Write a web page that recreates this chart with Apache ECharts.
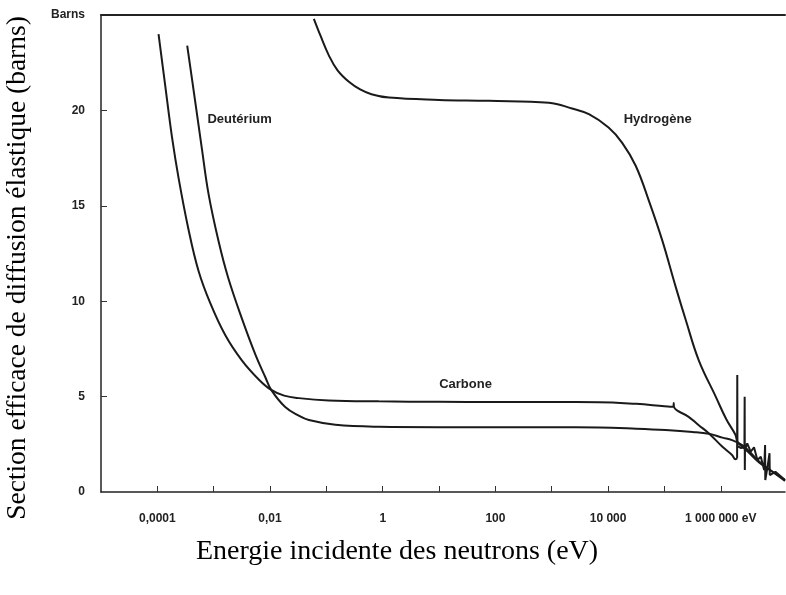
<!DOCTYPE html>
<html>
<head>
<meta charset="utf-8">
<script src="https://cdn.jsdelivr.net/npm/echarts@6/dist/echarts.min.js"></script>
<style>
  html, body { margin: 0; padding: 0; background: #fff; }
  #chart { width: 786px; height: 595px; }
</style>
</head>
<body>
<div id="chart"></div>
<script>
// energies in eV, cross sections in barns
const carbonE = [1.05e-4, 1.38e-4, 1.82e-4, 2.4e-4, 3.55e-4, 5.37e-4, 8.7e-4, 1.62e-3, 3.16e-3, 6.3e-3,
  1.05e-2, 1.78e-2, 3.24e-2, 0.11, 0.85, 10, 100, 1000, 6900, 3.16e4,
  1e5, 1.445e5, 1.462e5, 1.479e5, 2.69e5, 4.07e5, 6.17e5, 1.07e6, 1.585e6, 1.82e6, 1.95e6];
const carbonS = [24.0, 21.3, 18.6, 16.4, 13.8, 11.6, 9.9, 8.2, 6.9, 5.9,
  5.35, 5.05, 4.92, 4.8, 4.75, 4.73, 4.72, 4.72, 4.71, 4.62,
  4.5, 4.47, 4.66, 4.45, 3.94, 3.5, 3.07, 2.37, 1.94, 1.72, 1.75];

// resonance region of carbon (MeV)
const carbonResE = [1.95e6, 1.963e6, 1.977e6, 2.29e6, 2.63e6, 2.655e6, 2.673e6, 2.69e6, 2.95e6, 3.39e6,
  3.89e6, 4.47e6, 5.13e6, 5.89e6, 6.12e6, 6.17e6, 6.76e6, 7.33e6, 7.41e6, 9.33e6, 1.38e7];
const carbonResS = [1.75, 6.13, 2.4, 2.3, 2.35, 4.99, 1.15, 2.2, 2.55, 2.11,
  2.34, 1.68, 1.85, 1.15, 2.46, 0.63, 1.32, 2.03, 0.89, 1.06, 0.63];

const deutE = [3.39e-4, 4.68e-4, 6.17e-4, 8.13e-4, 1.23e-3, 1.82e-3, 3.16e-3, 5.5e-3, 8.3e-3, 1.05e-2,
  1.86e-2, 3.24e-2, 4.9e-2, 0.145, 0.85, 10, 100, 1000, 6900, 3.16e4,
  1.05e5, 3.16e5, 6.17e5, 1.07e6, 1.585e6, 2.4e6, 3.16e6, 4.79e6, 7.94e6, 1.38e7];
const deutS = [23.4, 20.5, 18.0, 15.6, 13.1, 11.2, 9.1, 7.2, 6.0, 5.35,
  4.45, 4.0, 3.77, 3.52, 3.42, 3.40, 3.40, 3.39, 3.38, 3.32,
  3.25, 3.15, 3.05, 2.85, 2.72, 2.46, 2.15, 1.6, 1.1, 0.63];

const hydroE = [0.06, 0.079, 0.11, 0.158, 0.251, 0.398, 0.631, 1.29, 10, 76,
  891, 2290, 4570, 1.02e4, 1.78e4, 3.09e4, 5.25e4, 9.12e4, 1.585e5, 2.4e5,
  4.07e5, 8.13e5, 1.26e6, 1.82e6, 2.0e6, 2.82e6, 4.79e6, 7.94e6, 1.38e7];
const hydroS = [24.8, 23.9, 22.9, 22.1, 21.5, 21.1, 20.85, 20.67, 20.55, 20.5,
  20.4, 20.1, 19.8, 19.1, 18.3, 17.1, 15.3, 13.2, 10.75, 9.0,
  6.9, 5.0, 3.8, 3.0, 2.6, 2.2, 1.55, 1.1, 0.58];

// x axis works in decades (log10 of energy)
const xTickExps = [-4, -3, -2, -1, 0, 1, 2, 3, 4, 5, 6];
const xLabelExps = [-4, -2, 0, 2, 4, 6];
const xLabels = ['0,0001', '0,01', '1', '100', '10 000', '1 000 000 eV'];
const yTicks = [0, 5, 10, 15, 20, 25];
const yLabels = ['0', '5', '10', '15', '20', 'Barns'];

const toPts = (E, S) => E.map((e, i) => [Math.log10(e), S[i]]);

const lineCol = '#1a1a1a';
const labelFont = { fontFamily: 'Liberation Sans', fontWeight: 'bold', fontSize: 12, color: '#222' };

function curveLabel(text, coord) {
  return {
    silent: true,
    symbol: 'circle',
    symbolSize: 0,
    label: {
      show: true,
      position: 'inside',
      formatter: text,
      fontFamily: 'Liberation Sans',
      fontWeight: 'bold',
      fontSize: 13,
      color: '#222'
    },
    data: [{ coord: coord }]
  };
}

function lineSeries(name, pts, smooth, markPoint) {
  const s = {
    name: name,
    type: 'line',
    data: pts,
    showSymbol: false,
    symbol: 'none',
    smooth: smooth ? 0.4 : false,
    lineStyle: { color: lineCol, width: 2 },
    z: 3
  };
  if (markPoint) s.markPoint = markPoint;
  return s;
}

const chart = echarts.init(document.getElementById('chart'), null, { renderer: 'canvas' });

chart.setOption({
  animation: false,
  backgroundColor: '#fff',
  grid: { left: 101, right: 1, top: 15, bottom: 103, containLabel: false },
  xAxis: [
    {
      type: 'value',
      position: 'bottom',
      min: -5,
      max: 7.14,
      splitLine: { show: false },
      axisLine: { show: true, onZero: false, lineStyle: { color: '#222', width: 1.5 } },
      axisTick: { show: true, inside: true, length: 6, customValues: xTickExps, lineStyle: { color: '#333', width: 1 } },
      axisLabel: Object.assign({
        margin: 21,
        customValues: xLabelExps,
        formatter: function (v) {
          const i = xLabelExps.indexOf(Math.round(v));
          return i >= 0 ? xLabels[i] : '';
        }
      }, labelFont)
    },
    {
      type: 'value',
      position: 'top',
      min: -5,
      max: 7.14,
      splitLine: { show: false },
      axisLine: { show: true, onZero: false, lineStyle: { color: '#222', width: 2 } },
      axisTick: { show: false },
      axisLabel: { show: false }
    }
  ],
  yAxis: {
    type: 'value',
    min: 0,
    max: 25,
    splitLine: { show: false },
    axisLine: { show: true, onZero: false, lineStyle: { color: '#222', width: 1.5 } },
    axisTick: { show: true, inside: true, length: 6, customValues: [5, 10, 15, 20], lineStyle: { color: '#333', width: 1 } },
    axisLabel: Object.assign({
      margin: 16,
      customValues: yTicks,
      formatter: function (v) {
        const i = yTicks.indexOf(Math.round(v));
        return i >= 0 ? yLabels[i] : '';
      }
    }, labelFont)
  },
  graphic: [
    {
      type: 'text',
      x: 397,
      y: 552,
      style: {
        text: 'Energie incidente des neutrons (eV)',
        font: '28px "Liberation Serif"',
        fill: '#000',
        align: 'center',
        verticalAlign: 'middle'
      }
    },
    {
      type: 'text',
      x: 18,
      y: 268,
      rotation: Math.PI / 2,
      style: {
        text: 'Section efficace de diffusion élastique (barns)',
        font: '27.5px "Liberation Serif"',
        fill: '#000',
        align: 'center',
        verticalAlign: 'middle'
      }
    }
  ],
  series: [
    lineSeries('Carbone', toPts(carbonE, carbonS), true, curveLabel('Carbone', [1.47, 5.66])),
    lineSeries('Carbone (résonances)', toPts(carbonResE, carbonResS), false),
    lineSeries('Deutérium', toPts(deutE, deutS), true, curveLabel('Deutérium', [-2.54, 19.55])),
    lineSeries('Hydrogène', toPts(hydroE, hydroS), true, curveLabel('Hydrogène', [4.88, 19.55]))
  ]
});
</script>
</body>
</html>
